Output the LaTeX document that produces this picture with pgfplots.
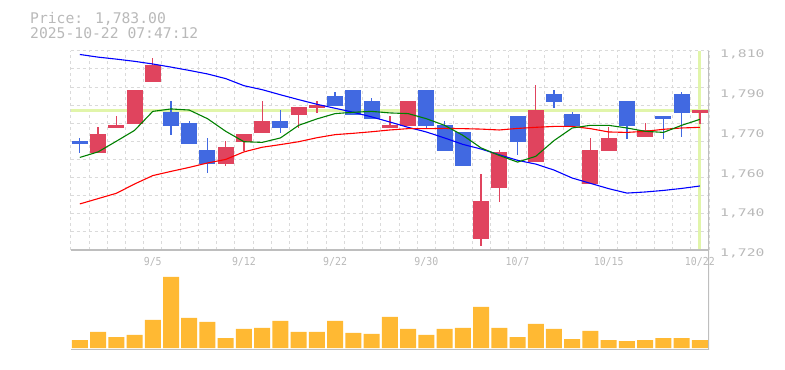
\documentclass[border=0pt]{standalone}
\usepackage{pgfplots}
\pgfplotsset{compat=1.18}
\usepackage{pgfplotstable}
\usepackage{fontspec}
\newfontfamily\titlefont{DejaVu Sans Mono}
\newfontfamily\tickfont[FakeStretch=1.4]{DejaVu Sans Mono}
\newfontfamily\datefont[FakeStretch=0.9]{DejaVu Sans Mono}
\definecolor{candlered}{RGB}{224,68,94}
\definecolor{candleblue}{RGB}{65,105,225}
\definecolor{volorange}{RGB}{255,185,51}
\definecolor{band}{RGB}{225,245,170}
\definecolor{gridgray}{RGB}{218,218,218}
\definecolor{axisgray}{RGB}{190,190,190}
\definecolor{labelgray}{RGB}{185,185,185}
\definecolor{magreen}{RGB}{0,128,0}

% up (red) candles
\pgfplotstableread{
x O H L C
1 1763.9 1775.5 1763.9 1772.4
2 1775.2 1780.5 1775.2 1776.4
3 1777.0 1792.2 1777.0 1792.2
4 1796.0 1806.7 1796.0 1803.5
8 1758.8 1769.2 1757.9 1766.5
9 1768.9 1772.4 1764.7 1772.4
10 1773.0 1787.3 1773.0 1778.2
12 1781.0 1784.6 1775.1 1784.6
13 1784.1 1787.3 1781.9 1785.5
17 1775.1 1780.5 1775.1 1776.4
18 1776.0 1787.3 1776.0 1787.3
22 1725.0 1754.3 1721.8 1742.1
23 1748.0 1765.2 1741.7 1764.3
25 1759.7 1794.5 1759.7 1783.2
28 1749.8 1770.6 1749.8 1765.2
29 1764.7 1775.5 1764.7 1770.6
31 1771.0 1777.3 1771.0 1774.2
34 1781.9 1783.2 1776.9 1783.2
}\upcandles

% down (blue) candles
\pgfplotstableread{
x O H L C
0 1769.2 1770.6 1764.0 1768.0
5 1782.3 1787.3 1771.9 1776.0
6 1777.3 1778.2 1767.9 1767.9
7 1765.2 1770.6 1754.8 1758.8
11 1778.2 1783.2 1772.8 1775.1
14 1789.5 1791.3 1785.0 1785.0
15 1792.2 1792.2 1781.0 1781.0
16 1787.3 1788.6 1779.2 1779.2
19 1792.2 1792.2 1775.1 1776.0
20 1776.4 1778.2 1764.7 1764.7
21 1773.3 1773.3 1757.9 1757.9
24 1780.5 1780.5 1762.9 1768.8
26 1790.4 1792.2 1784.1 1786.8
27 1781.4 1782.3 1776.0 1776.0
30 1787.3 1787.3 1770.1 1776.0
32 1780.5 1780.5 1770.1 1779.2
33 1790.4 1791.3 1771.0 1781.9
}\downcandles

% moving averages: x short(5) mid(25) long(75)
\pgfplotstableread{
x s m l
0 1761.8 1740.8 1808.3
1 1764.3 1743.2 1807.1
2 1769.1 1745.6 1806.2
3 1774.0 1749.8 1805.2
4 1782.6 1753.6 1804.0
5 1783.7 1755.5 1802.6
6 1783.2 1757.3 1801.1
7 1779.3 1759.3 1799.5
8 1773.6 1760.9 1797.4
9 1768.9 1764.3 1794.2
10 1768.6 1766.4 1792.4
11 1770.6 1767.6 1790.1
12 1776.3 1768.9 1787.9
13 1779.2 1770.7 1785.8
14 1781.6 1772.1 1784.0
15 1782.2 1772.7 1782.2
16 1782.6 1773.4 1780.1
17 1781.9 1774.2 1777.8
18 1781.6 1774.8 1775.4
19 1779.3 1774.8 1773.3
20 1776.3 1774.9 1770.6
21 1771.8 1774.8 1767.7
22 1766.1 1774.6 1765.6
23 1762.7 1774.2 1763.0
24 1759.7 1774.9 1760.5
25 1762.3 1775.4 1758.8
26 1769.4 1775.8 1756.1
27 1775.1 1775.8 1752.5
28 1776.3 1774.8 1750.1
29 1776.3 1773.3 1747.7
30 1775.1 1773.1 1745.7
31 1773.6 1773.6 1746.2
32 1773.1 1774.5 1746.9
33 1776.3 1775.1 1747.8
34 1779.0 1775.4 1748.9
}\mas

% volume (relative heights)
\pgfplotstableread{
x v
0 24
1 48
2 33
3 39
4 84
5 213
6 90
7 78
8 30
9 57
10 60
11 81
12 48
13 48
14 81
15 45
16 42
17 93
18 57
19 39
20 57
21 60
22 123
23 60
24 33
25 72
26 57
27 27
28 51
29 24
30 21
31 24
32 30
33 30
34 24
}\volumes

\begin{document}
\begin{tikzpicture}
\path[use as bounding box] (0,0) rectangle (785bp,370bp);

\node[anchor=base west, inner sep=0pt, text=labelgray, font=\titlefont\fontsize{14.7bp}{15bp}\selectfont] at (30bp,346.7bp) {Price: 1,783.00};
\node[anchor=base west, inner sep=0pt, text=labelgray, font=\titlefont\fontsize{14.7bp}{15bp}\selectfont] at (30bp,331.7bp) {2025-10-22 07:47:12};

% volume panel
\begin{axis}[
  at={(70.7bp,20bp)}, anchor=south west, scale only axis,
  width=638.3bp, height=100bp,
  xmin=-0.5, xmax=34.5, ymin=-6, ymax=294,
  axis line style={draw=none},
  xtick=\empty, ytick=\empty,
  minor xtick={-0.5,0.5,...,34.5},
  xminorgrids,
  minor tick length=0pt, major tick length=0pt,
  minor grid style={gridgray, dash pattern=on 3bp off 3bp, line width=0.8bp},
  ybar, bar width=16bp, bar shift=0pt,
]
\addplot[fill=volorange, draw=none] table[x=x, y=v] {\volumes};
\draw[axisgray, line width=1.2bp] (rel axis cs:0,1) -- (rel axis cs:1,1) -- (rel axis cs:1,0) -- (rel axis cs:0,0);
\end{axis}

% price panel
\begin{axis}[
  at={(70.7bp,120bp)}, anchor=south west, scale only axis,
  width=638.3bp, height=199.3bp,
  xmin=-0.5, xmax=34.5, ymin=1720, ymax=1810,
  axis line style={draw=none},
  xtick={4,9,14,19,24,29,34},
  xticklabels={9/5,9/12,9/22,9/30,10/7,10/15,10/22},
  ytick={1720,1738,1756,1774,1792,1810},
  yticklabels={{1,720},{1,740},{1,760},{1,770},{1,790},{1,810}},
  yticklabel pos=right,
  minor xtick={-0.5,0.5,...,34.5},
  minor ytick={1728.1818,1736.3636,1744.5455,1752.7273,1760.9091,1769.0909,1777.2727,1785.4545,1793.6364,1801.8182,1810},
  xminorgrids, yminorgrids, xmajorgrids=false, ymajorgrids=false,
  minor grid style={gridgray, dash pattern=on 3bp off 3bp, line width=0.8bp},
  major tick length=0pt, minor tick length=0pt,
  xticklabel style={font=\datefont\fontsize{11bp}{11bp}\selectfont, text=labelgray, anchor=base, inner sep=0pt, yshift=-16bp},
  yticklabel style={font=\tickfont\fontsize{10.5bp}{11bp}\selectfont, text=labelgray, anchor=base west, inner sep=0pt, xshift=11bp, yshift=-6.8bp},
  candle/.style={draw=none, mark=none, forget plot, error bars/.cd, y dir=both, y explicit, error mark=none},
]
% current price band and current date line
\addplot[band, line width=2.8bp, forget plot] coordinates {(-0.5,1783) (34.5,1783)};
\addplot[band, line width=2.8bp, forget plot] coordinates {(34,1720.5) (34,1810)};

% wicks
\addplot[candle, error bar style={draw=candlered, line width=1.3bp}]
  table[x=x, y expr={(\thisrow{H}+\thisrow{L})/2}, y error expr={(\thisrow{H}-\thisrow{L})/2}] {\upcandles};
\addplot[candle, error bar style={draw=candleblue, line width=1.3bp}]
  table[x=x, y expr={(\thisrow{H}+\thisrow{L})/2}, y error expr={(\thisrow{H}-\thisrow{L})/2}] {\downcandles};
% bodies
\addplot[candle, error bar style={draw=candlered, line width=16bp}]
  table[x=x, y expr={(\thisrow{O}+\thisrow{C})/2}, y error expr={abs(\thisrow{C}-\thisrow{O})/2}] {\upcandles};
\addplot[candle, error bar style={draw=candleblue, line width=16bp}]
  table[x=x, y expr={(\thisrow{O}+\thisrow{C})/2}, y error expr={abs(\thisrow{C}-\thisrow{O})/2}] {\downcandles};

% moving averages
\addplot[blue, line width=1.1bp, no markers] table[x=x, y=l] {\mas};
\addplot[red, line width=1.1bp, no markers] table[x=x, y=m] {\mas};
\addplot[magreen, line width=1.1bp, no markers] table[x=x, y=s] {\mas};

\draw[axisgray, line width=1.2bp] (rel axis cs:0,0) -- (rel axis cs:1,0);
\draw[axisgray, line width=1.2bp] (rel axis cs:1,0) -- (rel axis cs:1,1);
\end{axis}
\end{tikzpicture}
\end{document}
